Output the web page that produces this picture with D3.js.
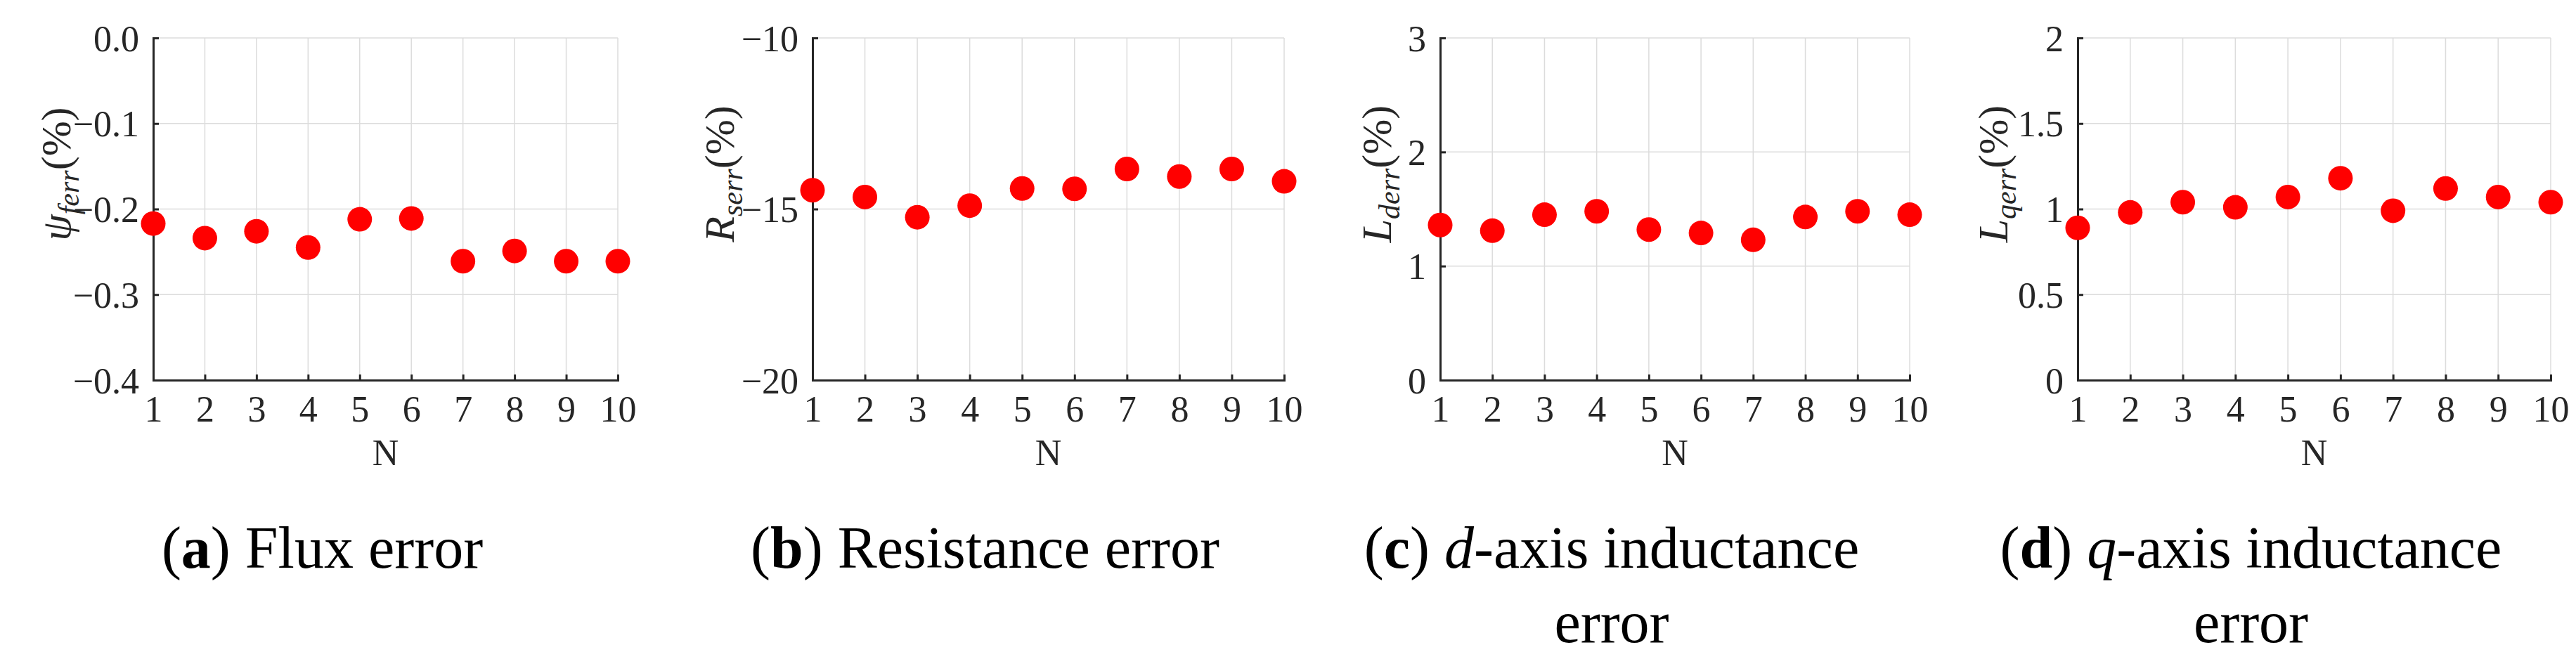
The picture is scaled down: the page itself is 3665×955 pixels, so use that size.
<!DOCTYPE html>
<html>
<head>
<meta charset="utf-8">
<script src="https://cdn.jsdelivr.net/npm/d3@7"></script>
<style>
  body { margin: 0; background: #fff; }
  text { font-family: "Liberation Serif", "DejaVu Serif", serif; }
</style>
</head>
<body>
<div id="chart"></div>
<script>
var N = [1, 2, 3, 4, 5, 6, 7, 8, 9, 10];
var fluxErr = [-0.217, -0.234, -0.226, -0.245, -0.212, -0.211, -0.261, -0.249, -0.261, -0.261];
var resErr = [-14.45, -14.65, -15.24, -14.9, -14.4, -14.41, -13.83, -14.05, -13.83, -14.19];
var ldErr = [1.36, 1.31, 1.45, 1.48, 1.32, 1.29, 1.23, 1.43, 1.48, 1.45];
var lqErr = [0.89, 0.98, 1.04, 1.01, 1.07, 1.18, 0.99, 1.12, 1.07, 1.04];

var fluxTicks = [0, -0.1, -0.2, -0.3, -0.4];
var resTicks = [-10, -15, -20];
var ldTicks = [0, 1, 2, 3];
var lqTicks = [0, 0.5, 1, 1.5, 2];

var svgWidth = 3665, svgHeight = 955;
var plotTop = 54, plotBottom = 541;

var panels = [
  {left: 218, right: 879, values: fluxErr, domain: [-0.4, 0], ticks: fluxTicks, fmt: d3.format(".1f"),
   sym: "ψ", sub: "ferr", labelOff: -118, caption: [["a", "Flux error"]]},
  {left: 1156, right: 1827, values: resErr, domain: [-20, -10], ticks: resTicks, fmt: d3.format("d"),
   sym: "R", sub: "serr", labelOff: -112, caption: [["b", "Resistance error"]]},
  {left: 2049, right: 2717, values: ldErr, domain: [0, 3], ticks: ldTicks, fmt: d3.format("d"),
   sym: "L", sub: "derr", labelOff: -70, caption: [["c", "d", "-axis inductance"], ["", "error"]]},
  {left: 2956, right: 3629, values: lqErr, domain: [0, 2], ticks: lqTicks, fmt: function(d) { return String(d); },
   sym: "L", sub: "qerr", labelOff: -100, caption: [["d", "q", "-axis inductance"], ["", "error"]]}
];

var svg = d3.select("#chart").append("svg")
  .attr("width", svgWidth).attr("height", svgHeight);

panels.forEach(function(p) {
  var g = svg.append("g");
  var x = d3.scaleLinear().domain([1, 10]).range([p.left, p.right]);
  var y = d3.scaleLinear().domain(p.domain).range([plotBottom, plotTop]);

  // grid
  g.append("g").selectAll("line").data(N).enter().append("line")
    .attr("x1", function(d) { return x(d); }).attr("x2", function(d) { return x(d); })
    .attr("y1", plotTop).attr("y2", plotBottom)
    .attr("stroke", "#dcdcdc").attr("stroke-width", 1.5);
  g.append("g").selectAll("line").data(p.ticks).enter().append("line")
    .attr("x1", p.left).attr("x2", p.right)
    .attr("y1", function(d) { return y(d); }).attr("y2", function(d) { return y(d); })
    .attr("stroke", "#dcdcdc").attr("stroke-width", 1.5);

  // axes
  var xAxis = g.append("g").attr("transform", "translate(0," + plotBottom + ")")
    .call(d3.axisBottom(x).tickValues(N).tickSize(-8).tickPadding(22).tickFormat(d3.format("d")));
  var yAxis = g.append("g").attr("transform", "translate(" + p.left + ",0)")
    .call(d3.axisLeft(y).tickValues(p.ticks).tickSize(-8).tickPadding(20).tickFormat(p.fmt));
  [xAxis, yAxis].forEach(function(a) {
    a.select(".domain").attr("stroke", "#262626").attr("stroke-width", 3);
    a.selectAll(".tick line").attr("stroke", "#262626").attr("stroke-width", 3);
    a.selectAll(".tick text").attr("fill", "#262626").style("font-size", "52px")
      .style("font-family", "'Liberation Serif', serif");
  });
  xAxis.selectAll(".tick text").attr("dy", "0.71em");
  yAxis.selectAll(".tick text").attr("dy", "0.35em");

  // points
  g.selectAll("circle").data(p.values).enter().append("circle")
    .attr("cx", function(d, i) { return x(N[i]); })
    .attr("cy", function(d) { return y(d); })
    .attr("r", 17.5).attr("fill", "#ff0000");

  // x label
  g.append("text").attr("x", (p.left + p.right) / 2).attr("y", 662)
    .attr("text-anchor", "middle").attr("fill", "#262626").style("font-size", "52px").text("N");

  // y label
  var lab = g.append("text")
    .attr("transform", "translate(" + (p.left + p.labelOff) + "," + ((plotTop + plotBottom) / 2 - 50) + ") rotate(-90)")
    .attr("text-anchor", "middle").attr("fill", "#262626").style("font-size", "60px");
  lab.append("tspan").style("font-style", "italic").text(p.sym);
  lab.append("tspan").style("font-style", "italic").style("font-size", "42px").attr("dy", 12).text(p.sub);
  lab.append("tspan").attr("dy", -12).text("(%)");

  // caption
  var cx = (p.left + p.right) / 2 - 90;
  p.caption.forEach(function(line, li) {
    var t = g.append("text").attr("x", cx).attr("y", 808 + li * 106)
      .attr("text-anchor", "middle").attr("fill", "#000").style("font-size", "84px");
    if (line[0]) {
      t.append("tspan").text("(");
      t.append("tspan").style("font-weight", "bold").text(line[0]);
      t.append("tspan").text(") ");
    }
    if (line.length === 3) {
      t.append("tspan").style("font-style", "italic").text(line[1]);
      t.append("tspan").text(line[2]);
    } else {
      t.append("tspan").text(line[1]);
    }
  });
});
</script>
</body>
</html>
